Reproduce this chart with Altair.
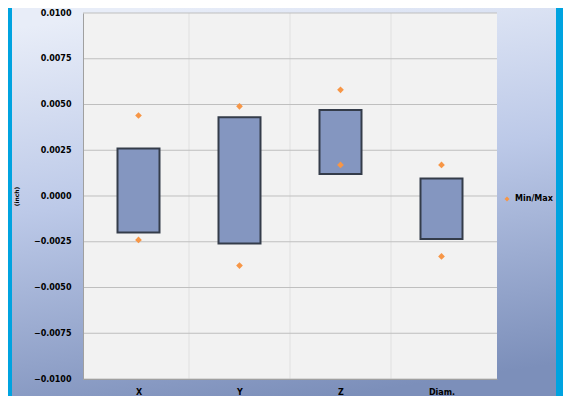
import altair as alt
import pandas as pd

# measured ranges per axis
cats = ['X', 'Y', 'Z', 'Diam.']
bar_lo = [-0.0020, -0.0026, 0.0012, -0.00235]
bar_hi = [0.0026, 0.0043, 0.0047, 0.00095]
min_pts = [-0.0024, -0.0038, 0.0017, -0.0033]
max_pts = [0.0044, 0.0049, 0.0058, 0.0017]

W, H = 414, 366
pos = [i + 0.5 for i in range(len(cats))]

bars = pd.DataFrame({'pos': pos, 'cat': cats, 'lo': bar_lo, 'hi': bar_hi})
pts = pd.DataFrame({'pos': pos * 2, 'val': min_pts + max_pts, 'series': 'Min/Max'})
grid_x = pd.DataFrame({'b': [1, 2, 3]})

xscale = alt.Scale(domain=[0, 4], nice=False)
yscale = alt.Scale(domain=[-0.01, 0.01], nice=False)

panel = alt.Chart(bars).mark_rect(
    color=alt.Gradient(gradient='linear', x1=0.3, y1=0, x2=0.5, y2=1,
                       stops=[alt.GradientStop(color='#E8EDF8', offset=0),
                              alt.GradientStop(color='#BCC9E8', offset=0.45),
                              alt.GradientStop(color='#7C8FBA', offset=1)])
).encode(x=alt.value(-71), x2=alt.value(473), y=alt.value(-9), y2=alt.value(391))

plotbg = alt.Chart(bars).mark_rect(color='#F2F2F2').encode(
    x=alt.value(0), x2=alt.value(W), y=alt.value(0), y2=alt.value(H))

vgrid = alt.Chart(grid_x).mark_rule(color='#E0E0E0', strokeWidth=1).encode(
    x=alt.X('b:Q', scale=xscale), y=alt.value(0), y2=alt.value(H))

axis_x = alt.Axis(title=None, values=pos, labelExpr="['X','Y','Z','Diam.'][floor(datum.value)]",
                  ticks=False, grid=False, domainColor='#A0A0A0', labelFontWeight='bold',
                  labelFontSize=8, labelColor='#000000', labelPadding=9, labelFont='DejaVu Sans',
                  zindex=1)
axis_y = alt.Axis(title='(inch)', values=[-0.01 + 0.0025 * i for i in range(9)], format='.4f',
                  ticks=False, grid=False, domainColor='#A0A0A0', labelFontWeight='bold',
                  labelFontSize=8, labelColor='#000000', labelPadding=12, labelFont='DejaVu Sans',
                  titleFontSize=6, titleFontWeight='bold', titlePadding=14, titleFont='DejaVu Sans',
                  zindex=1)

hgrid = alt.Chart(pd.DataFrame({'v': [-0.01 + 0.0025 * i for i in range(9)]})).mark_rule(
    color='#BFBFBF', strokeWidth=1).encode(
    y=alt.Y('v:Q', scale=yscale, axis=axis_y), x=alt.value(0), x2=alt.value(W))

rng = alt.Chart(bars).mark_bar(size=42, color='#8496C0', stroke='#343C4A', strokeWidth=2).encode(
    x=alt.X('pos:Q', scale=xscale, axis=axis_x),
    y=alt.Y('lo:Q', scale=yscale),
    y2='hi:Q')

dots = alt.Chart(pts).mark_point(shape='diamond', filled=True, size=45, opacity=1).encode(
    x=alt.X('pos:Q', scale=xscale),
    y=alt.Y('val:Q', scale=yscale),
    color=alt.Color('series:N', scale=alt.Scale(range=['#F79646']),
                    legend=alt.Legend(title=None, orient='none', legendX=420, legendY=182,
                                      labelFontWeight='bold', labelFontSize=8, symbolSize=25,
                                      labelFont='DejaVu Sans', labelColor='#000000')))

chart = alt.layer(panel, plotbg, vgrid, hgrid, rng, dots).properties(
    width=W, height=H, background='#00A3E0',
    padding={'left': 75, 'top': 5, 'right': 66, 'bottom': 17},
    autosize=alt.AutoSizeParams(type='none')
).configure_view(stroke=None, fill=None)

chart.save("out.html", embed_options={"renderer": "svg", "actions": False})
